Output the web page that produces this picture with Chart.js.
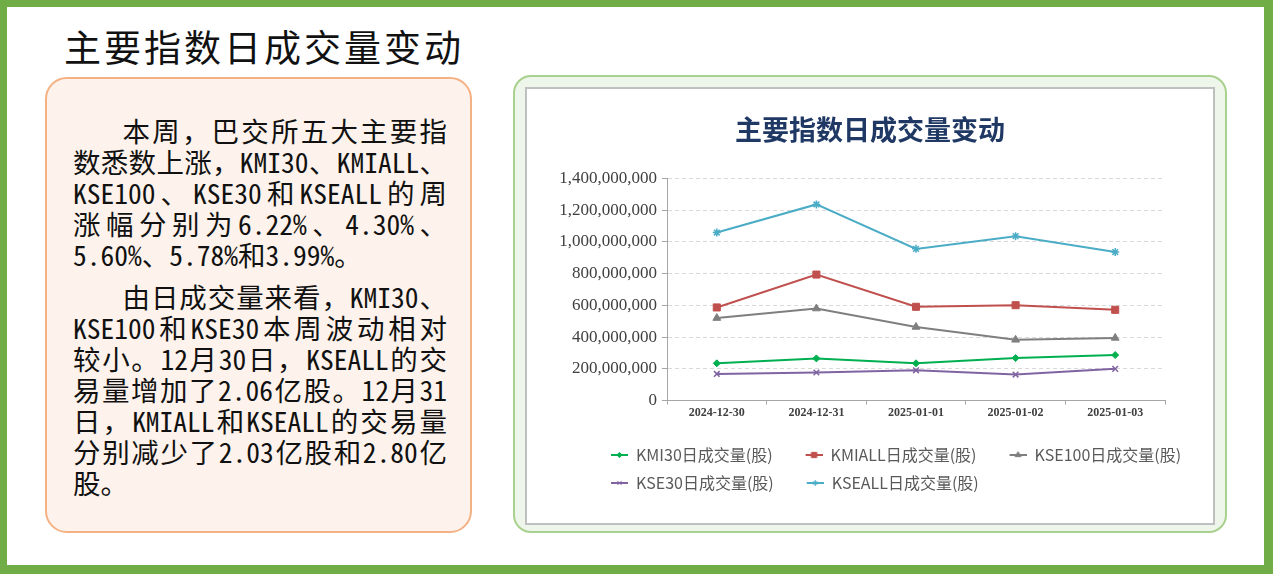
<!DOCTYPE html>
<html>
<head>
<meta charset="utf-8">
<script src="https://cdn.jsdelivr.net/npm/chart.js@4.4.1/dist/chart.umd.min.js"></script>
<style>
html, body { margin: 0; padding: 0; background: #fff; }
body { width: 1273px; height: 579px; position: relative; overflow: hidden; font-family: "Noto Sans CJK SC", sans-serif; }
#frame { position: absolute; left: 0; top: 0; width: 1273px; height: 574px; box-sizing: border-box; border-style: solid; border-color: #70ad47; border-width: 7px 9px 9px 7px; }
#head { position: absolute; left: 64px; top: 22px; font-size: 37px; line-height: 48px; letter-spacing: 3px; color: #111; }
#note { position: absolute; left: 45px; top: 77px; width: 427px; height: 456px; box-sizing: border-box; border: 2px solid #f4b183; border-radius: 22px; background: #fdf3ec; }
#txt { position: absolute; left: 26px; top: 36px; width: 374px; font-size: 27.5px; line-height: 31px; color: #111; }
#txt div { text-align: justify; text-align-last: justify; }
#txt .ind { text-indent: 1.8em; }
#txt .last { text-align-last: left; }
#txt .gap { margin-top: 11px; }
#txt .h { font-feature-settings: "hwid" 1; }
#panel { position: absolute; left: 513px; top: 75px; width: 714px; height: 458px; box-sizing: border-box; border: 2px solid #a9d18e; border-radius: 18px; background: #eef5ea; }
#inner { position: absolute; left: 525px; top: 87px; width: 690px; height: 438px; box-sizing: border-box; border: 2px solid #bfbfbf; background: #fff; }
#wrap { position: absolute; left: 527px; top: 89px; width: 686px; height: 434px; }
</style>
</head>
<body>
<div id="frame"></div>
<div id="head">主要指数日成交量变动</div>
<div id="note">
  <div id="txt">
    <div class="ind">本周，巴交所五大主要指</div>
    <div>数悉数上涨，<span class="h">KMI30</span>、<span class="h">KMIALL</span>、</div>
    <div><span class="h">KSE100</span>、<span class="h">KSE30</span>和<span class="h">KSEALL</span>的周</div>
    <div>涨幅分别为<span class="h">6.22%</span>、<span class="h">4.30%</span>、</div>
    <div class="last"><span class="h">5.60%</span>、<span class="h">5.78%</span>和<span class="h">3.99%</span>。</div>
    <div class="ind gap">由日成交量来看，<span class="h">KMI30</span>、</div>
    <div><span class="h">KSE100</span>和<span class="h">KSE30</span>本周波动相对</div>
    <div>较小。<span class="h">12</span>月<span class="h">30</span>日，<span class="h">KSEALL</span>的交</div>
    <div>易量增加了<span class="h">2.06</span>亿股。<span class="h">12</span>月<span class="h">31</span></div>
    <div>日，<span class="h">KMIALL</span>和<span class="h">KSEALL</span>的交易量</div>
    <div>分别减少了<span class="h">2.03</span>亿股和<span class="h">2.80</span>亿</div>
    <div class="last">股。</div>
  </div>
</div>
<div id="panel"></div>
<div id="inner"></div>
<div id="wrap"><canvas id="chart" width="686" height="434"></canvas></div>

<script>
const chartTitle = '主要指数日成交量变动';
const dates = ['2024-12-30', '2024-12-31', '2025-01-01', '2025-01-02', '2025-01-03'];
const seriesNames = ['KMI30日成交量(股)', 'KMIALL日成交量(股)', 'KSE100日成交量(股)', 'KSE30日成交量(股)', 'KSEALL日成交量(股)'];
const kmi30 = [235000000, 266000000, 235000000, 268000000, 287000000];
const kmiall = [587000000, 794000000, 591000000, 601000000, 572000000];
const kse100 = [520000000, 580000000, 464000000, 383000000, 395000000];
const kse30 = [168000000, 177000000, 191000000, 164000000, 200000000];
const kseall = [1059000000, 1236000000, 956000000, 1036000000, 936000000];
const yMax = 1400000000;
const yStep = 200000000;

const colors = ['#00b050', '#c0504d', '#7f7f7f', '#8064a2', '#4bacc6'];
const markers = ['rectRot', 'rect', 'triangle', 'crossRot', 'star'];
const radii = [3.5, 5, 4.5, 4, 4];
const values = [kmi30, kmiall, kse100, kse30, kseall];

Chart.defaults.font.family = "'Noto Sans CJK SC', sans-serif";

// legend icons: short line with marker, left part kept empty as spacing
const ICON_W = 38;
function legendIcon(color, style, r) {
    const c = document.createElement('canvas');
    c.width = ICON_W;
    c.height = 12;
    const g = c.getContext('2d');
    g.strokeStyle = color;
    g.fillStyle = color;
    g.lineWidth = 2;
    g.beginPath();
    g.moveTo(ICON_W - 17, 6);
    g.lineTo(ICON_W, 6);
    g.stroke();
    g.lineWidth = 1;
    if (Chart.helpers && Chart.helpers.drawPoint) {
        Chart.helpers.drawPoint(g, { pointStyle: style, radius: r, borderWidth: 1 }, ICON_W - 8.5, 6);
    } else {
        g.fillRect(ICON_W - 11, 3.5, 5, 5);
    }
    return c;
}
const icons = colors.map((c, i) => legendIcon(c, markers[i], radii[i] * 0.75));

const datasets = seriesNames.map((name, i) => ({
    label: name,
    data: values[i],
    borderColor: colors[i],
    backgroundColor: colors[i],
    borderWidth: 2,
    pointStyle: markers[i],
    pointRadius: radii[i],
    pointBorderWidth: (markers[i] === 'crossRot' || markers[i] === 'star') ? 1.5 : 1,
    pointBackgroundColor: colors[i],
    pointBorderColor: colors[i],
    tension: 0
}));

// move legend and title boxes independently of the plot padding
const placeBoxes = {
    id: 'placeBoxes',
    afterLayout(chart) {
        if (chart.legend) {
            chart.legend.left = 84 - (ICON_W - 17) - 12;
            chart.legend.right = chart.width;
        }
        if (chart.titleBlock) {
            chart.titleBlock.left = 0;
            chart.titleBlock.right = chart.width;
        }
    }
};

new Chart(document.getElementById('chart'), {
    type: 'line',
    data: { labels: dates, datasets: datasets },
    options: {
        responsive: false,
        animation: false,
        layout: { padding: { top: 25, right: 48, bottom: 22, left: 0 } },
        plugins: {
            title: {
                display: true,
                text: chartTitle,
                color: '#1f3864',
                font: { size: 27, weight: 'bold' },
                padding: { top: 0, bottom: 32 }
            },
            legend: {
                position: 'bottom',
                align: 'start',
                labels: {
                    usePointStyle: true,
                    pointStyleWidth: ICON_W,
                    padding: 12,
                    color: '#595959',
                    font: { size: 16 },
                    generateLabels(chart) {
                        const items = Chart.defaults.plugins.legend.labels.generateLabels(chart);
                        items.forEach((it, i) => { it.pointStyle = icons[i]; });
                        return items;
                    }
                }
            },
            tooltip: { enabled: false }
        },
        scales: {
            x: {
                offset: true,
                grid: { drawOnChartArea: false, drawTicks: true, tickLength: 4, color: '#a6a6a6', offset: true },
                border: { color: '#a6a6a6', width: 1 },
                ticks: { font: { family: "'Liberation Serif', serif", size: 12, weight: 'bold' }, color: '#404040', padding: 1, maxRotation: 0 },
                afterFit(s) { s.height += 14; }
            },
            y: {
                min: 0,
                max: yMax,
                grid: {
                    color: (c) => c.tick && c.tick.value === 0 ? 'rgba(0,0,0,0)' : '#d9d9d9',
                    tickColor: '#a6a6a6',
                    tickLength: 5,
                    tickBorderDash: []
                },
                border: { color: '#a6a6a6', width: 1, dash: [4, 3] },
                ticks: {
                    stepSize: yStep,
                    padding: 5,
                    color: '#404040',
                    font: { family: "'Liberation Serif', serif", size: 17 },
                    callback: (v) => v.toLocaleString('en-US')
                },
                afterFit(s) { s.width = 140; }
            }
        }
    },
    plugins: [placeBoxes]
});
</script>
</body>
</html>
